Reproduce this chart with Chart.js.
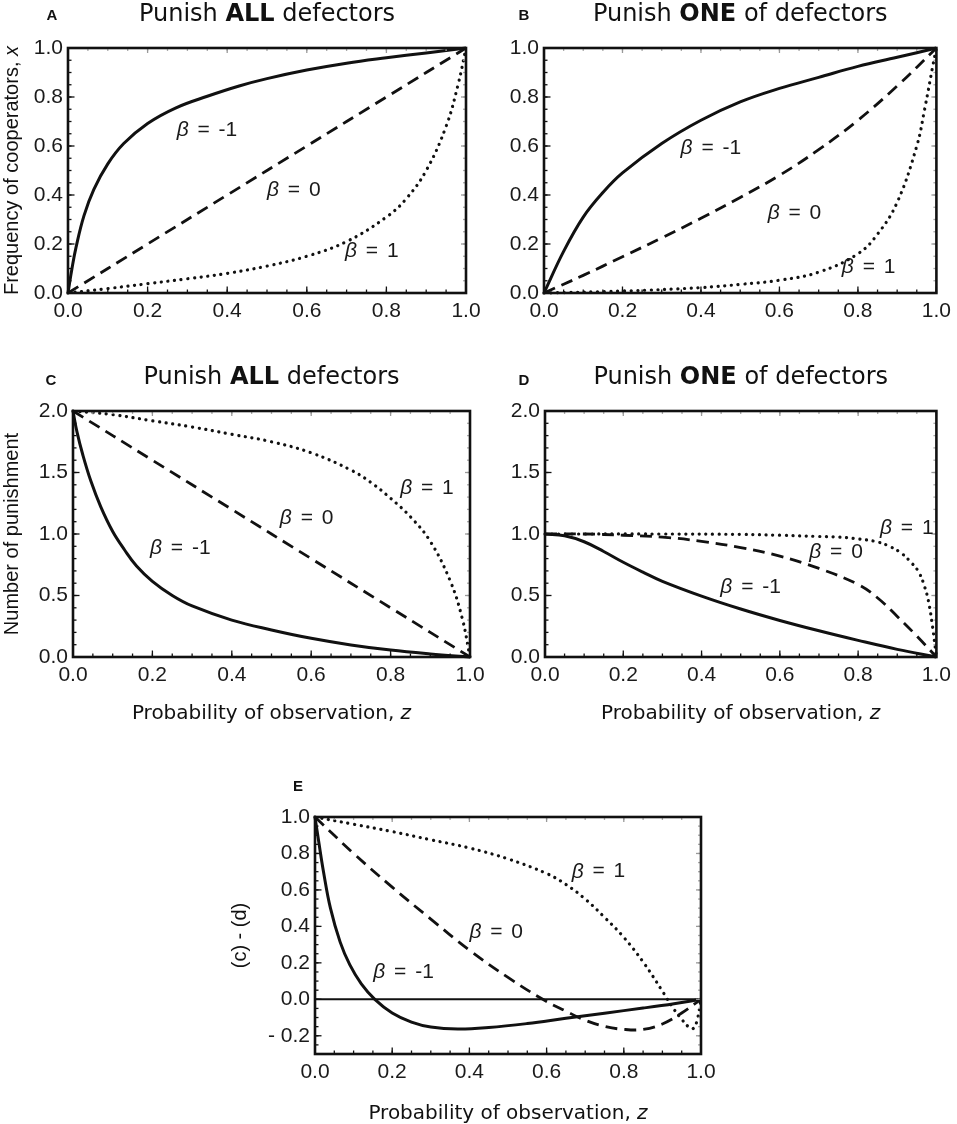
<!DOCTYPE html>
<html>
<head>
<meta charset="utf-8">
<script src="https://cdn.jsdelivr.net/npm/chart.js@4.4.1/dist/chart.umd.min.js"></script>
<style>
  html, body { margin: 0; padding: 0; background: #fff; }
  #wrap { position: relative; width: 957px; height: 1124px; }
  #wrap canvas { position: absolute; left: 0; top: 0; }
</style>
</head>
<body>
<div id="wrap">
  <canvas id="cA" width="957" height="1124"></canvas>
  <canvas id="cB" width="957" height="1124"></canvas>
  <canvas id="cC" width="957" height="1124"></canvas>
  <canvas id="cD" width="957" height="1124"></canvas>
  <canvas id="cE" width="957" height="1124"></canvas>
</div>
<script>
// ---- data ----
// tick labels
const xTicks = [0, 0.2, 0.4, 0.6, 0.8, 1.0];
const yTicksAB = [0, 0.2, 0.4, 0.6, 0.8, 1.0];
const yTicksCD = [0, 0.5, 1.0, 1.5, 2.0];
const yTicksE = [-0.2, 0, 0.2, 0.4, 0.6, 0.8, 1.0];
const betas = [-1, 0, 1];

// A: frequency of cooperators, punish ALL
const zA_neg = [0, 0.01, 0.02, 0.04, 0.065, 0.1, 0.14, 0.2, 0.27, 0.35, 0.43, 0.5, 0.6, 0.7, 0.8, 0.9, 1.0];
const A_neg  = [0, 0.1, 0.185, 0.315, 0.423, 0.527, 0.61, 0.692, 0.755, 0.803, 0.845, 0.875, 0.91, 0.938, 0.96, 0.98, 1.0];
const zA_zero = [0, 0.2, 0.4, 0.6, 0.8, 1.0];
const A_zero  = [0, 0.2, 0.4, 0.6, 0.8, 1.0];
const zA_pos = [0, 0.1, 0.2, 0.3, 0.4, 0.5, 0.6, 0.7, 0.8, 0.85, 0.9, 0.95, 0.98, 1.0];
const A_pos  = [0, 0.018, 0.038, 0.058, 0.08, 0.11, 0.15, 0.21, 0.31, 0.385, 0.5, 0.68, 0.85, 1.0];

// B: frequency of cooperators, punish ONE
const zB_neg = [0, 0.05, 0.1, 0.15, 0.2, 0.3, 0.4, 0.5, 0.6, 0.7, 0.8, 0.9, 1.0];
const B_neg  = [0, 0.17, 0.31, 0.41, 0.49, 0.61, 0.705, 0.78, 0.835, 0.88, 0.925, 0.962, 1.0];
const zB_zero = [0, 0.1, 0.2, 0.3, 0.4, 0.5, 0.6, 0.7, 0.8, 0.9, 1.0];
const B_zero  = [0, 0.072, 0.148, 0.225, 0.305, 0.39, 0.48, 0.585, 0.705, 0.845, 1.0];
const zB_pos = [0, 0.2, 0.4, 0.5, 0.6, 0.7, 0.8, 0.85, 0.9, 0.95, 0.97, 0.99, 1.0];
const B_pos  = [0, 0.008, 0.022, 0.035, 0.052, 0.085, 0.16, 0.24, 0.37, 0.6, 0.75, 0.92, 1.0];

// C: number of punishment, punish ALL
const zC_neg = [0, 0.01, 0.025, 0.045, 0.07, 0.1, 0.13, 0.16, 0.2, 0.25, 0.3, 0.4, 0.5, 0.6, 0.7, 0.8, 0.9, 1.0];
const C_neg  = [2.0, 1.83, 1.64, 1.43, 1.22, 1.02, 0.87, 0.74, 0.615, 0.5, 0.415, 0.3, 0.22, 0.152, 0.098, 0.056, 0.025, 0];
const zC_zero = [0, 0.2, 0.4, 0.6, 0.8, 1.0];
const C_zero  = [2.0, 1.6, 1.2, 0.8, 0.4, 0];
const zC_pos = [0, 0.1, 0.2, 0.3, 0.4, 0.5, 0.6, 0.7, 0.75, 0.8, 0.85, 0.9, 0.95, 0.98, 1.0];
const C_pos  = [2.0, 1.97, 1.92, 1.87, 1.81, 1.75, 1.66, 1.52, 1.42, 1.29, 1.14, 0.94, 0.62, 0.32, 0];

// D: number of punishment, punish ONE
const zD_neg = [0, 0.05, 0.1, 0.15, 0.2, 0.25, 0.3, 0.4, 0.5, 0.6, 0.7, 0.8, 0.9, 1.0];
const D_neg  = [1.0, 0.985, 0.937, 0.858, 0.77, 0.69, 0.615, 0.495, 0.39, 0.297, 0.213, 0.135, 0.062, 0];
const zD_zero = [0, 0.1, 0.2, 0.3, 0.4, 0.5, 0.6, 0.7, 0.8, 0.85, 0.9, 0.95, 1.0];
const D_zero  = [1.0, 1.0, 0.99, 0.975, 0.94, 0.89, 0.82, 0.72, 0.59, 0.48, 0.33, 0.17, 0];
const zD_pos = [0, 0.3, 0.5, 0.6, 0.7, 0.75, 0.8, 0.85, 0.88, 0.91, 0.935, 0.955, 0.97, 0.98, 0.99, 1.0];
const D_pos  = [1.0, 1.0, 0.997, 0.99, 0.98, 0.975, 0.96, 0.935, 0.9, 0.845, 0.77, 0.69, 0.57, 0.45, 0.25, 0];

// E: (c) - (d)
const zE_neg = [0, 0.01, 0.022, 0.04, 0.065, 0.09, 0.12, 0.155, 0.2, 0.25, 0.3, 0.37, 0.45, 0.55, 0.65, 0.75, 0.85, 0.93, 1.0];
const E_neg  = [1.0, 0.86, 0.7, 0.5, 0.315, 0.19, 0.085, 0.0, -0.075, -0.125, -0.152, -0.163, -0.155, -0.133, -0.104, -0.076, -0.048, -0.024, 0];
const zE_zero = [0, 0.1, 0.2, 0.3, 0.4, 0.5, 0.59, 0.65, 0.7, 0.75, 0.8, 0.85, 0.9, 0.95, 1.0];
const E_zero  = [1.0, 0.8, 0.615, 0.44, 0.27, 0.12, 0.0, -0.065, -0.115, -0.148, -0.165, -0.165, -0.135, -0.075, 0];
const zE_pos = [0, 0.1, 0.2, 0.3, 0.4, 0.5, 0.6, 0.65, 0.7, 0.75, 0.8, 0.85, 0.9, 0.91, 0.93, 0.95, 0.97, 0.98, 0.99, 1.0];
const E_pos  = [1.0, 0.96, 0.92, 0.875, 0.83, 0.77, 0.69, 0.63, 0.55, 0.45, 0.34, 0.205, 0.045, 0.01, -0.055, -0.11, -0.155, -0.16, -0.115, 0];

// ---- layout / style ----
const PAGE_W = 957, PAGE_H = 1124;
const Y_W = 50, X_H = 40;
const SANS = '"Liberation Sans", Arial, sans-serif';
const DEJA = '"DejaVu Sans", sans-serif';
const INK = '#111';

const lineStyles = [
  { borderWidth: 3, borderDash: [], borderCapStyle: 'butt' },          // beta = -1 solid
  { borderWidth: 2.8, borderDash: [12, 7], borderCapStyle: 'butt' },   // beta = 0 dashed
  { borderWidth: 3.2, borderDash: [0.1, 6.6], borderCapStyle: 'round' } // beta = 1 dotted
];

function drawParts(ctx, parts, x, y, align) {
  let w = 0;
  parts.forEach(p => { ctx.font = p.font; p.w = ctx.measureText(p.text).width + (p.after || 0); w += p.w; });
  let cx = align === 'center' ? x - w / 2 : x;
  ctx.textAlign = 'left';
  parts.forEach(p => { ctx.font = p.font; ctx.fillText(p.text, cx, y); cx += p.w; });
}

const decorPlugin = {
  id: 'decor',
  beforeDatasetsDraw(chart) {
    const p = chart.options.plugins.decor;
    if (!p.zeroLine) return;
    const { ctx, chartArea: a } = chart;
    const y0 = chart.scales.y.getPixelForValue(0);
    ctx.save();
    ctx.strokeStyle = INK;
    ctx.lineWidth = 2;
    ctx.beginPath(); ctx.moveTo(a.left, y0); ctx.lineTo(a.right, y0); ctx.stroke();
    ctx.restore();
  },
  afterDatasetsDraw(chart) {
    const p = chart.options.plugins.decor;
    const { ctx, chartArea: a } = chart;
    const xs = chart.scales.x, ys = chart.scales.y;
    ctx.save();
    // inward ticks
    const tick = (x1, y1, x2, y2, col) => {
      ctx.strokeStyle = col; ctx.beginPath(); ctx.moveTo(x1, y1); ctx.lineTo(x2, y2); ctx.stroke();
    };
    ctx.lineWidth = 1.3;
    const nx = Math.round((xs.max - xs.min) / p.xMinor);
    for (let i = 0; i <= nx; i++) {
      const px = xs.getPixelForValue(xs.min + i * p.xMinor);
      tick(px, a.bottom, px, a.bottom - 3.5, INK);
      tick(px, a.top, px, a.top + 3, '#aaa');
    }
    xTicks.forEach(v => {
      const px = xs.getPixelForValue(v);
      tick(px, a.bottom, px, a.bottom - 6.5, INK);
      tick(px, a.top, px, a.top + 5, '#999');
    });
    const ny = Math.round((ys.max - ys.min) / p.yMinor);
    for (let i = 0; i <= ny; i++) {
      const py = ys.getPixelForValue(ys.min + i * p.yMinor);
      tick(a.left, py, a.left + 3.5, py, INK);
      tick(a.right, py, a.right - 3, py, '#aaa');
    }
    p.yTicks.forEach(v => {
      const py = ys.getPixelForValue(v);
      tick(a.left, py, a.left + 6.5, py, INK);
      tick(a.right, py, a.right - 5, py, '#999');
    });
    // frame
    ctx.strokeStyle = INK;
    ctx.lineWidth = 2.6;
    ctx.strokeRect(a.left, a.top, a.right - a.left, a.bottom - a.top);
    ctx.restore();
  },
  afterDraw(chart) {
    const p = chart.options.plugins.decor;
    const { ctx, chartArea: a } = chart;
    const xs = chart.scales.x, ys = chart.scales.y;
    ctx.save();
    ctx.fillStyle = INK;
    ctx.textBaseline = 'alphabetic';
    // panel letter
    ctx.font = 'bold 15px ' + SANS;
    ctx.textAlign = 'center';
    ctx.fillText(p.letter, p.letterX, p.letterY);
    // title
    if (p.title) {
      drawParts(ctx, [
        { text: p.title[0], font: '24px ' + DEJA },
        { text: p.title[1], font: 'bold 24px ' + DEJA },
        { text: p.title[2], font: '24px ' + DEJA }
      ], (a.left + a.right) / 2, p.titleY, 'center');
    }
    // x axis title
    if (p.xTitle) {
      drawParts(ctx, [
        { text: 'Probability of observation, ', font: '20px ' + DEJA },
        { text: 'z', font: 'italic 20px ' + DEJA }
      ], (a.left + a.right) / 2, p.xTitleY, 'center');
    }
    // y axis title (rotated)
    if (p.yTitle) {
      ctx.save();
      ctx.translate(p.yTitleX, (a.top + a.bottom) / 2);
      ctx.rotate(-Math.PI / 2);
      ctx.textBaseline = 'middle';
      const parts = [{ text: p.yTitle[0], font: '20px ' + SANS }];
      if (p.yTitle[1]) parts.push({ text: p.yTitle[1], font: 'italic 20px ' + SANS });
      drawParts(ctx, parts, 0, 0, 'center');
      ctx.restore();
    }
    // beta labels
    ctx.textBaseline = 'middle';
    ctx.fillStyle = '#1a1a1a';
    p.labels.forEach((pos, i) => {
      drawParts(ctx, [
        { text: 'β', font: 'italic 21px ' + SANS, after: 3 },
        { text: ' = ', font: '21px ' + SANS, after: 3 },
        { text: String(betas[i]), font: '21px ' + SANS }
      ], xs.getPixelForValue(pos[0]), ys.getPixelForValue(pos[1]), 'left');
    });
    ctx.restore();
  }
};

function makePanel(id, p) {
  const datasets = p.series.map((s, i) => Object.assign({
    data: s[0].map((z, k) => ({ x: z, y: s[1][k] })),
    borderColor: INK,
    showLine: true,
    pointRadius: 0,
    fill: false,
    tension: 0.4,
    clip: 5
  }, lineStyles[i]));

  const tickFont = { family: SANS, size: 21 };
  return new Chart(document.getElementById(id), {
    type: 'scatter',
    data: { datasets },
    options: {
      responsive: false,
      animation: false,
      events: [],
      layout: {
        padding: {
          left: p.box[0] - Y_W,
          top: p.box[1],
          right: PAGE_W - p.box[2],
          bottom: PAGE_H - p.box[3] - X_H
        }
      },
      plugins: {
        legend: { display: false },
        tooltip: { enabled: false },
        decor: p
      },
      scales: {
        x: {
          type: 'linear', min: 0, max: 1,
          afterBuildTicks: s => { s.ticks = xTicks.map(v => ({ value: v })); },
          afterFit: s => { s.height = X_H; },
          grid: { display: false, drawTicks: false },
          border: { display: false },
          ticks: { font: tickFont, color: '#1a1a1a', padding: 6, maxRotation: 0, autoSkip: false,
                   callback: v => v.toFixed(1) }
        },
        y: {
          type: 'linear', min: p.yMin, max: p.yMax,
          afterBuildTicks: s => { s.ticks = p.yTicks.map(v => ({ value: v })); },
          afterFit: s => { s.width = Y_W; },
          grid: { display: false, drawTicks: false },
          border: { display: false },
          ticks: { font: tickFont, color: '#1a1a1a', padding: 5, autoSkip: false,
                   callback: v => (v < 0 ? '- ' + Math.abs(v).toFixed(1) : v.toFixed(1)) }
        }
      }
    },
    plugins: [decorPlugin]
  });
}

makePanel('cA', {
  box: [68, 48, 466, 293], yMin: 0, yMax: 1, yTicks: yTicksAB, xMinor: 0.05, yMinor: 0.05,
  series: [[zA_neg, A_neg], [zA_zero, A_zero], [zA_pos, A_pos]],
  letter: 'A', letterX: 52, letterY: 20,
  title: ['Punish ', 'ALL', ' defectors'], titleY: 21,
  yTitle: ['Frequency of cooperators, ', 'x'], yTitleX: 12,
  labels: [[0.273, 0.665], [0.5, 0.42], [0.696, 0.169]]
});

makePanel('cB', {
  box: [544, 48, 941, 293], yMin: 0, yMax: 1, yTicks: yTicksAB, xMinor: 0.05, yMinor: 0.05,
  series: [[zB_neg, B_neg], [zB_zero, B_zero], [zB_pos, B_pos]],
  letter: 'B', letterX: 524, letterY: 20,
  title: ['Punish ', 'ONE', ' of defectors'], titleY: 21,
  labels: [[0.348, 0.59], [0.57, 0.325], [0.759, 0.107]]
});

makePanel('cC', {
  box: [73, 411, 470, 657], yMin: 0, yMax: 2, yTicks: yTicksCD, xMinor: 0.05, yMinor: 0.1,
  series: [[zC_neg, C_neg], [zC_zero, C_zero], [zC_pos, C_pos]],
  letter: 'C', letterX: 51, letterY: 385,
  title: ['Punish ', 'ALL', ' defectors'], titleY: 384,
  yTitle: ['Number of punishment'], yTitleX: 12,
  xTitle: true, xTitleY: 719,
  labels: [[0.194, 0.884], [0.521, 1.128], [0.824, 1.372]]
});

makePanel('cD', {
  box: [545, 411, 942, 657], yMin: 0, yMax: 2, yTicks: yTicksCD, xMinor: 0.05, yMinor: 0.1,
  series: [[zD_neg, D_neg], [zD_zero, D_zero], [zD_pos, D_pos]],
  letter: 'D', letterX: 524, letterY: 385,
  title: ['Punish ', 'ONE', ' of defectors'], titleY: 384,
  xTitle: true, xTitleY: 719,
  labels: [[0.448, 0.57], [0.675, 0.855], [0.856, 1.05]]
});

makePanel('cE', {
  box: [315, 817, 701, 1054], yMin: -0.3, yMax: 1, yTicks: yTicksE, xMinor: 0.05, yMinor: 0.05,
  series: [[zE_neg, E_neg], [zE_zero, E_zero], [zE_pos, E_pos]],
  letter: 'E', letterX: 298, letterY: 791,
  yTitle: ['(c) - (d)'], yTitleX: 240,
  xTitle: true, xTitleY: 1119,
  zeroLine: true,
  labels: [[0.151, 0.15], [0.40, 0.37], [0.665, 0.70]]
});
</script>
</body>
</html>
